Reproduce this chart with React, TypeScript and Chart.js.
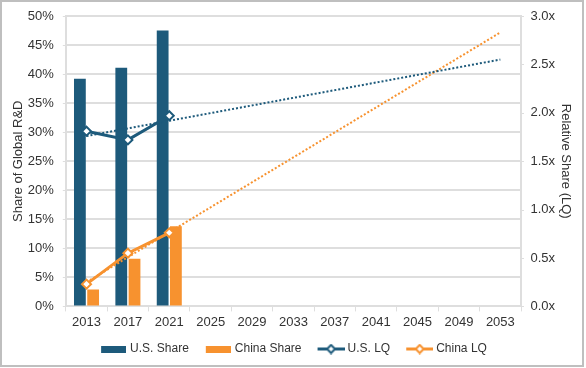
import React, { useEffect, useRef } from 'react';
import { Chart, registerables } from 'chart.js';

Chart.register(...registerables);

const years = ['2013', '2017', '2021', '2025', '2029', '2033', '2037', '2041', '2045', '2049', '2053'];
const usShare = [39.2, 41.1, 47.5, null, null, null, null, null, null, null, null];
const chinaShare = [2.9, 8.2, 13.8, null, null, null, null, null, null, null, null];
const usLQ = [1.81, 1.72, 1.97, null, null, null, null, null, null, null, null];
const chinaLQ = [0.23, 0.55, 0.76, null, null, null, null, null, null, null, null];
const usTrend = [1.76, null, null, null, null, null, null, null, null, null, 2.55];
const chinaTrend = [0.25, null, null, null, null, null, null, null, null, null, 2.83];
const leftTitle = 'Share of Global R&D';
const rightTitle = 'Relative Share (LQ)';
const legendLabels = ['U.S. Share', 'China Share', 'U.S. LQ', 'China LQ'];

const BLUE = '#1d5a7b';
const ORANGE = '#f7922f';
const TEXT = '#333333';
const GRID = '#dedede';
const FONT = "'Liberation Sans', Arial, sans-serif";

// Legend swatches: transparent lead-in (item spacing) then the mark.
const LEAD = 9;

function barSwatch(color: string) {
  const c = document.createElement('canvas');
  c.width = LEAD + 25;
  c.height = 7;
  const ctx = c.getContext('2d')!;
  ctx.fillStyle = color;
  ctx.fillRect(LEAD, 0, 25, 7);
  return c;
}

function lineSwatch(color: string) {
  const c = document.createElement('canvas');
  c.width = LEAD + 27;
  c.height = 11;
  const ctx = c.getContext('2d')!;
  ctx.strokeStyle = color;
  ctx.lineWidth = 3;
  ctx.beginPath();
  ctx.moveTo(LEAD, 5.5);
  ctx.lineTo(LEAD + 27, 5.5);
  ctx.stroke();
  ctx.fillStyle = '#ffffff';
  ctx.lineWidth = 2;
  const cx = LEAD + 13.5;
  ctx.beginPath();
  ctx.moveTo(cx, 1.5);
  ctx.lineTo(cx + 4, 5.5);
  ctx.lineTo(cx, 9.5);
  ctx.lineTo(cx - 4, 5.5);
  ctx.closePath();
  ctx.fill();
  ctx.stroke();
  return c;
}

const borderPlugin = {
  id: 'outerBorder',
  afterDraw(chart: any) {
    const ctx = chart.ctx;
    ctx.save();
    ctx.strokeStyle = '#bfbfbf';
    ctx.lineWidth = 2;
    ctx.strokeRect(1, 1, 582, 365);
    ctx.restore();
  },
};

const shortTicksPlugin = {
  id: 'shortTicks',
  beforeDatasetsDraw(chart: any) {
    const ctx = chart.ctx;
    const { left, right } = chart.chartArea;
    ctx.save();
    ctx.strokeStyle = GRID;
    ctx.lineWidth = 1;
    const ys = chart.scales.y;
    ys.ticks.forEach((t: any) => {
      const p = Math.round(ys.getPixelForValue(t.value)) + 0.5;
      ctx.beginPath();
      ctx.moveTo(left - 3, p);
      ctx.lineTo(left, p);
      ctx.stroke();
    });
    const y1 = chart.scales.y1;
    y1.ticks.forEach((t: any) => {
      const p = Math.round(y1.getPixelForValue(t.value)) + 0.5;
      ctx.beginPath();
      ctx.moveTo(right, p);
      ctx.lineTo(right + 3, p);
      ctx.stroke();
    });
    ctx.restore();
  },
};

export default function App() {
  const ref = useRef<HTMLCanvasElement>(null);

  useEffect(() => {
    if (!ref.current) return;
    const swatches = [barSwatch(BLUE), barSwatch(ORANGE), lineSwatch(BLUE), lineSwatch(ORANGE)];
    const chart = new Chart(ref.current, {
      type: 'bar',
      data: {
        labels: years,
        datasets: [
          {
            type: 'bar',
            label: legendLabels[0],
            data: usShare,
            backgroundColor: BLUE,
            yAxisID: 'y',
            order: 3,
            categoryPercentage: 0.64,
            barPercentage: 0.89,
          },
          {
            type: 'bar',
            label: legendLabels[1],
            data: chinaShare,
            backgroundColor: ORANGE,
            yAxisID: 'y',
            order: 3,
            categoryPercentage: 0.64,
            barPercentage: 0.89,
          },
          {
            type: 'line',
            label: legendLabels[2],
            data: usLQ,
            borderColor: BLUE,
            borderWidth: 3,
            pointStyle: 'rectRot',
            pointRadius: 4.5,
            pointBackgroundColor: '#ffffff',
            pointBorderColor: BLUE,
            pointBorderWidth: 2,
            yAxisID: 'y1',
            order: 0,
          },
          {
            type: 'line',
            label: legendLabels[3],
            data: chinaLQ,
            borderColor: ORANGE,
            borderWidth: 3,
            pointStyle: 'rectRot',
            pointRadius: 4.5,
            pointBackgroundColor: '#ffffff',
            pointBorderColor: ORANGE,
            pointBorderWidth: 2,
            yAxisID: 'y1',
            order: 0,
          },
          {
            type: 'line',
            label: 'US trend',
            data: usTrend,
            borderColor: BLUE,
            borderWidth: 2,
            borderDash: [2, 2],
            pointRadius: 0,
            spanGaps: true,
            yAxisID: 'y1',
            order: 1,
          },
          {
            type: 'line',
            label: 'China trend',
            data: chinaTrend,
            borderColor: ORANGE,
            borderWidth: 2,
            borderDash: [2, 2],
            pointRadius: 0,
            spanGaps: true,
            yAxisID: 'y1',
            order: 1,
          },
        ],
      } as any,
      options: {
        responsive: false,
        animation: false,
        devicePixelRatio: 1,
        layout: { padding: { left: 0, right: 5, top: 16, bottom: 3 } },
        plugins: {
          tooltip: { enabled: false },
          legend: {
            position: 'bottom',
            labels: {
              usePointStyle: true,
              pointStyleWidth: 21 + LEAD,
              padding: 10,
              color: TEXT,
              font: { family: FONT, size: 12 },
              generateLabels: () =>
                legendLabels.map((t, i) => ({
                  text: t,
                  pointStyle: swatches[i] as any,
                  fillStyle: 'transparent',
                  strokeStyle: 'transparent',
                  lineWidth: 0,
                  hidden: false,
                  datasetIndex: i,
                  fontColor: TEXT,
                })),
            },
          },
        },
        scales: {
          x: {
            type: 'category',
            offset: true,
            grid: { offset: true, drawOnChartArea: false, drawTicks: true, tickLength: 5, color: GRID, lineWidth: 1 },
            border: { display: true, color: GRID, width: 2 },
            ticks: { color: TEXT, font: { family: FONT, size: 13 }, padding: 3, maxRotation: 0, autoSkip: false },
          },
          y: {
            position: 'left',
            min: 0,
            max: 50,
            ticks: { stepSize: 5, callback: (v: any) => v + '%', color: TEXT, font: { family: FONT, size: 13 }, padding: 2 },
            grid: { color: GRID, lineWidth: 2, tickLength: 10, tickColor: 'rgba(0,0,0,0)' },
            border: { display: true, color: GRID, width: 2 },
            title: { display: true, text: leftTitle, color: TEXT, font: { family: FONT, size: 13 }, padding: { top: 10.2, bottom: 0 } },
          },
          y1: {
            position: 'right',
            min: 0,
            max: 3,
            ticks: { stepSize: 0.5, callback: (v: any) => Number(v).toFixed(1) + 'x', color: TEXT, font: { family: FONT, size: 13 }, padding: 2 },
            grid: { drawOnChartArea: false, tickLength: 7.5, tickColor: 'rgba(0,0,0,0)', color: GRID, lineWidth: 1 },
            border: { display: true, color: GRID, width: 2 },
            title: { display: true, text: rightTitle, color: TEXT, font: { family: FONT, size: 13 }, padding: { top: 7.8, bottom: 0.5 } },
          },
        },
      } as any,
      plugins: [borderPlugin, shortTicksPlugin],
    });
    return () => chart.destroy();
  }, []);

  return (
    <div style={{ position: 'fixed', left: 0, top: 0, width: 586, height: 368, background: '#fff' }}>
      <canvas ref={ref} width={586} height={368} style={{ display: 'block' }} />
    </div>
  );
}
